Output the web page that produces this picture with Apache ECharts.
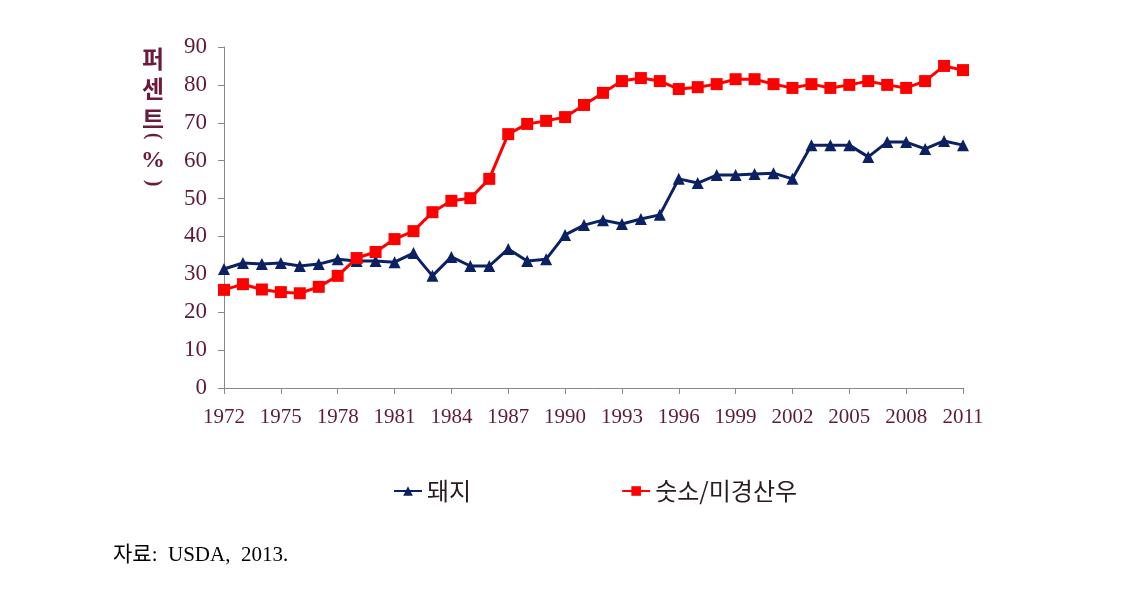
<!DOCTYPE html>
<html><head><meta charset="utf-8">
<script src="https://cdn.jsdelivr.net/npm/echarts@6/dist/echarts.min.js"></script>
<style>html,body{margin:0;padding:0;background:#fff}#c{width:1124px;height:591px}</style>
</head><body><div id="c"></div>
<script>
const years = [];
for (let y = 1972; y <= 2011; y++) years.push(String(y));
const pig = [31.4,33,32.7,33,32.2,32.7,34,33.5,33.5,33.2,35.6,29.6,34.6,32.2,32.2,36.7,33.5,34,40.4,43,44.3,43.3,44.6,45.7,55.2,54.1,56.2,56.2,56.5,56.7,55.2,64.1,64.1,64.1,61,64.9,64.9,63.1,65.2,64.1];
const cattle = [25.9,27.4,26,25.3,25,26.7,29.6,34.3,35.9,39.3,41.4,46.4,49.4,50.1,55.2,67,69.7,70.5,71.5,74.7,77.9,81,81.8,81,78.9,79.4,80.2,81.5,81.5,80.2,79.2,80.2,79.2,80,81,80,79.2,81,85,83.9];
const seriesNames = ['돼지','숫소/미경산우'];
const yTitleTop = '퍼\n센\n트';
const yTitlePct = '%';
const source = '자료:  USDA,  2013.';

const labelColor = '#5e1b36';
const titleColor = '#6b1a3a';
const chart = echarts.init(document.getElementById('c'));
chart.setOption({
  animation: false,
  grid: {left: 224, right: 161, top: 47, bottom: 203},
  legend: {
    top: 474, left: 388, itemGap: 150, itemWidth: 28, itemHeight: 12,
    textStyle: {fontFamily: '"Noto Sans CJK KR"', fontSize: 24, color: '#2a1a22'},
    data: seriesNames
  },
  xAxis: {
    type: 'category', data: years, boundaryGap: false,
    axisLine: {lineStyle: {color: '#888', width: 1}},
    axisTick: {interval: 2, length: 6, lineStyle: {color: '#888'}},
    axisLabel: {interval: 2, fontFamily: '"Liberation Serif"', fontSize: 21, color: labelColor, margin: 19}
  },
  yAxis: {
    type: 'value', min: 0, max: 90, interval: 10,
    splitLine: {show: false},
    axisLine: {show: true, lineStyle: {color: '#888'}},
    axisTick: {show: true, length: 6, lineStyle: {color: '#888'}},
    axisLabel: {fontFamily: '"Liberation Serif"', fontSize: 23, color: labelColor, margin: 17}
  },
  graphic: [
    {type: 'text', x: 153, y: 44, style: {text: yTitleTop, font: 'bold 24px "Noto Sans CJK KR"', fill: titleColor, lineHeight: 30, align: 'center'}},
    {type: 'text', x: 153, y: 136, rotation: -Math.PI / 2, style: {text: '(', font: 'bold 20px "Liberation Serif"', fill: titleColor, align: 'center', verticalAlign: 'middle'}},
    {type: 'text', x: 153, y: 161, style: {text: yTitlePct, font: 'bold 24px "Liberation Serif"', fill: titleColor, align: 'center', verticalAlign: 'middle'}},
    {type: 'text', x: 153, y: 183, rotation: -Math.PI / 2, style: {text: ')', font: 'bold 20px "Liberation Serif"', fill: titleColor, align: 'center', verticalAlign: 'middle'}},
    {type: 'text', left: 113, top: 545, style: {text: source, font: '21px "Liberation Serif", "Noto Sans CJK KR"', fill: '#000'}}
  ],
  series: [
    {name: seriesNames[0], type: 'line', data: pig, symbol: 'triangle', symbolSize: 12,
     lineStyle: {color: '#0b2163', width: 3}, itemStyle: {color: '#0b2163'}},
    {name: seriesNames[1], type: 'line', data: cattle, symbol: 'rect', symbolSize: 12,
     lineStyle: {color: '#ff0000', width: 3}, itemStyle: {color: '#ff0000'}}
  ]
});
</script></body></html>
